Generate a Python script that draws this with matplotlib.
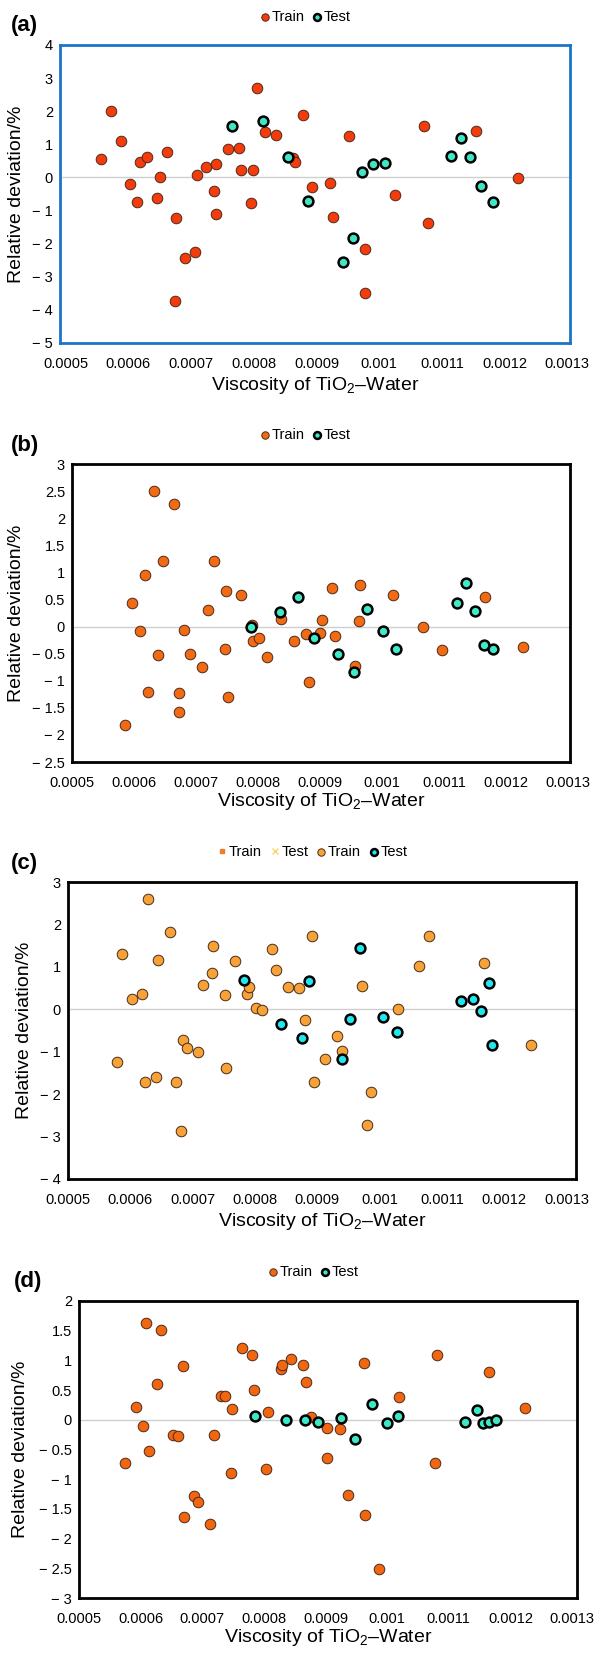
import numpy as np
import matplotlib.pyplot as plt
from matplotlib.lines import Line2D

plt.rcParams['font.family'] = ['Liberation Sans', 'DejaVu Sans']
plt.rcParams['mathtext.fontset'] = 'custom'
plt.rcParams['mathtext.rm'] = 'Liberation Sans'

# ---- panel (a)
a_train_x = [0.000556, 0.000573, 0.000588, 0.000602, 0.000614, 0.000618, 0.000630, 0.000646, 0.000650,
             0.000661, 0.000676, 0.000674, 0.000691, 0.000707, 0.000710, 0.000724, 0.000736, 0.000740,
             0.000740, 0.000759, 0.000776, 0.000779, 0.000795, 0.000799, 0.000805, 0.000818, 0.000836,
             0.000862, 0.000865, 0.000878, 0.000893, 0.000921, 0.000926, 0.000952, 0.000977, 0.000977,
             0.001025, 0.001071, 0.001078, 0.001154, 0.001222]
a_train_y = [0.55, 2.02, 1.09, -0.20, -0.73, 0.48, 0.63, -0.63, 0.00, 0.77, -1.21, -3.73, -2.42, -2.24,
             0.07, 0.32, -0.42, 0.41, -1.10, 0.85, 0.90, 0.22, -0.78, 0.22, 2.71, 1.36, 1.28, 0.59, 0.47,
             1.89, -0.30, -0.18, -1.18, 1.25, -2.15, -3.50, -0.53, 1.55, -1.39, 1.39, -0.03]
a_test_x = [0.000765, 0.000814, 0.000855, 0.000887, 0.000942, 0.000958, 0.000972, 0.000990, 0.001009,
            0.001115, 0.001130, 0.001145, 0.001163, 0.001182]
a_test_y = [1.55, 1.69, 0.63, -0.70, -2.55, -1.83, 0.17, 0.41, 0.45, 0.65, 1.19, 0.63, -0.25, -0.73]

# ---- panel (b)
b_train_x = [0.000586, 0.000597, 0.000609, 0.000618, 0.000622, 0.000633, 0.000638, 0.000647, 0.000664,
             0.000672, 0.000673, 0.000681, 0.000691, 0.000709, 0.000720, 0.000729, 0.000747, 0.000749,
             0.000752, 0.000772, 0.000791, 0.000792, 0.000802, 0.000815, 0.000837, 0.000858, 0.000878,
             0.000882, 0.000900, 0.000903, 0.000920, 0.000924, 0.000956, 0.000962, 0.000964, 0.001018,
             0.001066, 0.001097, 0.001166, 0.001227]
b_train_y = [-1.81, 0.44, -0.08, 0.96, -1.20, 2.50, -0.52, 1.21, 2.27, -1.22, -1.57, -0.07, -0.50, -0.74,
             0.30, 1.21, -0.41, 0.65, -1.30, 0.58, 0.02, -0.26, -0.21, -0.56, 0.14, -0.26, -0.14, -1.03,
             -0.12, 0.12, 0.71, -0.17, -0.72, 0.10, 0.76, 0.58, -0.01, -0.44, 0.55, -0.37]
b_test_x = [0.000788, 0.000836, 0.000864, 0.000891, 0.000929, 0.000954, 0.000976, 0.001001, 0.001023,
            0.001120, 0.001136, 0.001150, 0.001165, 0.001179]
b_test_y = [-0.01, 0.26, 0.54, -0.21, -0.51, -0.84, 0.33, -0.09, -0.42, 0.44, 0.81, 0.28, -0.34, -0.41]

# ---- panel (c)
c_train_x = [0.000579, 0.000587, 0.000603, 0.000618, 0.000623, 0.000629, 0.000641, 0.000645, 0.000664,
             0.000673, 0.000681, 0.000685, 0.000691, 0.000709, 0.000717, 0.000731, 0.000733, 0.000752,
             0.000754, 0.000768, 0.000788, 0.000790, 0.000801, 0.000812, 0.000827, 0.000833, 0.000853,
             0.000870, 0.000881, 0.000891, 0.000894, 0.000912, 0.000932, 0.000939, 0.000972, 0.000980,
             0.000986, 0.001029, 0.001063, 0.001079, 0.001168, 0.001243]
c_train_y = [-1.24, 1.30, 0.24, 0.35, -1.71, 2.60, -1.60, 1.15, 1.82, -1.72, -2.88, -0.72, -0.92, -1.00,
             0.57, 0.86, 1.48, 0.34, -1.38, 1.13, 0.37, 0.52, 0.02, -0.01, 1.43, 0.93, 0.52, 0.50, -0.26,
             1.73, -1.72, -1.16, -0.64, -0.99, 0.54, -2.72, -1.94, 0.01, 1.01, 1.73, 1.09, -0.83]
c_test_x = [0.000783, 0.000842, 0.000876, 0.000886, 0.000940, 0.000952, 0.000968, 0.001006, 0.001028,
            0.001131, 0.001150, 0.001163, 0.001176, 0.001181]
c_test_y = [0.68, -0.35, -0.68, 0.67, -1.18, -0.23, 1.45, -0.19, -0.53, 0.20, 0.24, -0.05, 0.62, -0.83]

# ---- panel (d)
d_train_x = [0.000575, 0.000593, 0.000604, 0.000609, 0.000614, 0.000626, 0.000633, 0.000652, 0.000661,
             0.000669, 0.000670, 0.000686, 0.000693, 0.000712, 0.000719, 0.000730, 0.000737, 0.000746,
             0.000749, 0.000764, 0.000781, 0.000784, 0.000804, 0.000806, 0.000828, 0.000829, 0.000844,
             0.000863, 0.000869, 0.000876, 0.000902, 0.000903, 0.000923, 0.000936, 0.000963, 0.000964,
             0.000986, 0.001020, 0.001077, 0.001081, 0.001165, 0.001223]
d_train_y = [-0.72, 0.22, -0.11, 1.63, -0.52, 0.61, 1.52, -0.26, -0.28, 0.90, -1.63, -1.28, -1.38, -1.76,
             -0.25, 0.40, 0.40, -0.90, 0.18, 1.21, 1.09, 0.50, -0.83, 0.13, 0.85, 0.92, 1.03, 0.93, 0.63,
             0.04, -0.65, -0.13, -0.15, -1.26, 0.96, -1.60, -2.51, 0.39, -0.73, 1.09, 0.80, 0.20]
d_test_x = [0.000786, 0.000836, 0.000867, 0.000888, 0.000925, 0.000948, 0.000976, 0.001000, 0.001018,
            0.001126, 0.001145, 0.001155, 0.001166, 0.001176]
d_test_y = [0.07, -0.01, 0.00, -0.03, 0.03, -0.32, 0.26, -0.06, 0.07, -0.03, 0.17, -0.06, -0.03, -0.01]

x_ticks = [0.0005, 0.0006, 0.0007, 0.0008, 0.0009, 0.001, 0.0011, 0.0012, 0.0013]

W, H = 595, 1654
fig = plt.figure(figsize=(W / 100, H / 100), dpi=100)


def fmt(v):
    s = f"{v:g}"
    return s.replace('-', '\u2212 ')


def panel(box, xlim, trx, tr_y, tex, te_y, ylim, ystep, train_col, test_col, frame_col, tag, tag_xy,
          leg_xy, xlab_y, ylab_x, four_entries=False):
    l, t, r, b = box
    ax = fig.add_axes([l / W, 1 - b / H, (r - l) / W, (b - t) / H])
    ax.axhline(0, color='#cfcfcf', lw=1.0, zorder=1)
    s1 = ax.scatter(trx, tr_y, s=58, c=train_col, edgecolors='#4a2a1a', linewidths=0.7, zorder=3)
    s2 = ax.scatter(tex, te_y, s=50, c=test_col, edgecolors='black', linewidths=1.8, zorder=4)
    ax.set_xlim(*xlim)
    ax.set_ylim(*ylim)
    ax.set_xticks(x_ticks, [f"{v:g}" for v in x_ticks])
    yt = np.arange(ylim[0], ylim[1] + 1e-9, ystep)
    ax.set_yticks(yt, [fmt(v) for v in yt])
    ax.tick_params(length=0, labelsize=10.5)
    ax.tick_params(axis='x', pad=10)
    ax.tick_params(axis='y', pad=5)
    for sp in ax.spines.values():
        sp.set_color(frame_col)
        sp.set_linewidth(2.0)
    ax.set_xlabel('Viscosity of TiO$_\\mathrm{2}$\u2013Water', fontsize=14, va='center')
    ax.xaxis.set_label_coords(0.5, -(xlab_y - b) / (b - t))
    ax.set_ylabel('Relative deviation/%', fontsize=14, va='center')
    ax.yaxis.set_label_coords((ylab_x - l) / (r - l), 0.5)
    fig.text(tag_xy[0] / W, 1 - tag_xy[1] / H, tag, fontsize=16, fontweight='bold',
             ha='left', va='center')
    handles = [s1, s2]
    labels = ['Train', 'Test']
    if four_entries:
        handles = [Line2D([], [], ls='none', marker='s', ms=5, mfc='#ED7D31', mec='#ED7D31'),
                   Line2D([], [], ls='none', marker='x', ms=6, mec='#FFD36B', mew=1.0), s1, s2]
        labels = ['Train', 'Test', 'Train', 'Test']
    fig.legend(handles, labels, loc='center', bbox_to_anchor=(leg_xy[0] / W, 1 - leg_xy[1] / H),
               ncol=len(handles), frameon=False, fontsize=10.5, handletextpad=0.05,
               columnspacing=0.5, handlelength=0.8, markerscale=0.7, borderpad=0)
    return ax


panel((60, 45, 570, 343), (0.0004909, 0.0013043), a_train_x, a_train_y, a_test_x, a_test_y,
      (-5, 4), 1, '#F33B0C', '#3FE6C4', '#1C74C6', '(a)', (11, 26), (305, 17), 385, 17)
panel((72, 464, 570, 762), (0.0005079, 0.001303), b_train_x, b_train_y, b_test_x, b_test_y,
      (-2.5, 3), 0.5, '#F26A12', '#3FEAC8', 'black', '(b)', (11, 446), (305, 435), 802, 17)
panel((68, 882, 576, 1179), (0.0005018, 0.0013151), c_train_x, c_train_y, c_test_x, c_test_y,
      (-4, 3), 1, '#F6A237', '#22E6EE', 'black', '(c)', (11, 863), (312, 852), 1222, 25,
      four_entries=True)
panel((79, 1301, 577, 1598), (0.0005, 0.001308), d_train_x, d_train_y, d_test_x, d_test_y,
      (-3, 2), 0.5, '#F2660F', '#3DE8C6', 'black', '(d)', (14, 1281), (313, 1272), 1638, 21)

fig.savefig('out.png', dpi=100)
